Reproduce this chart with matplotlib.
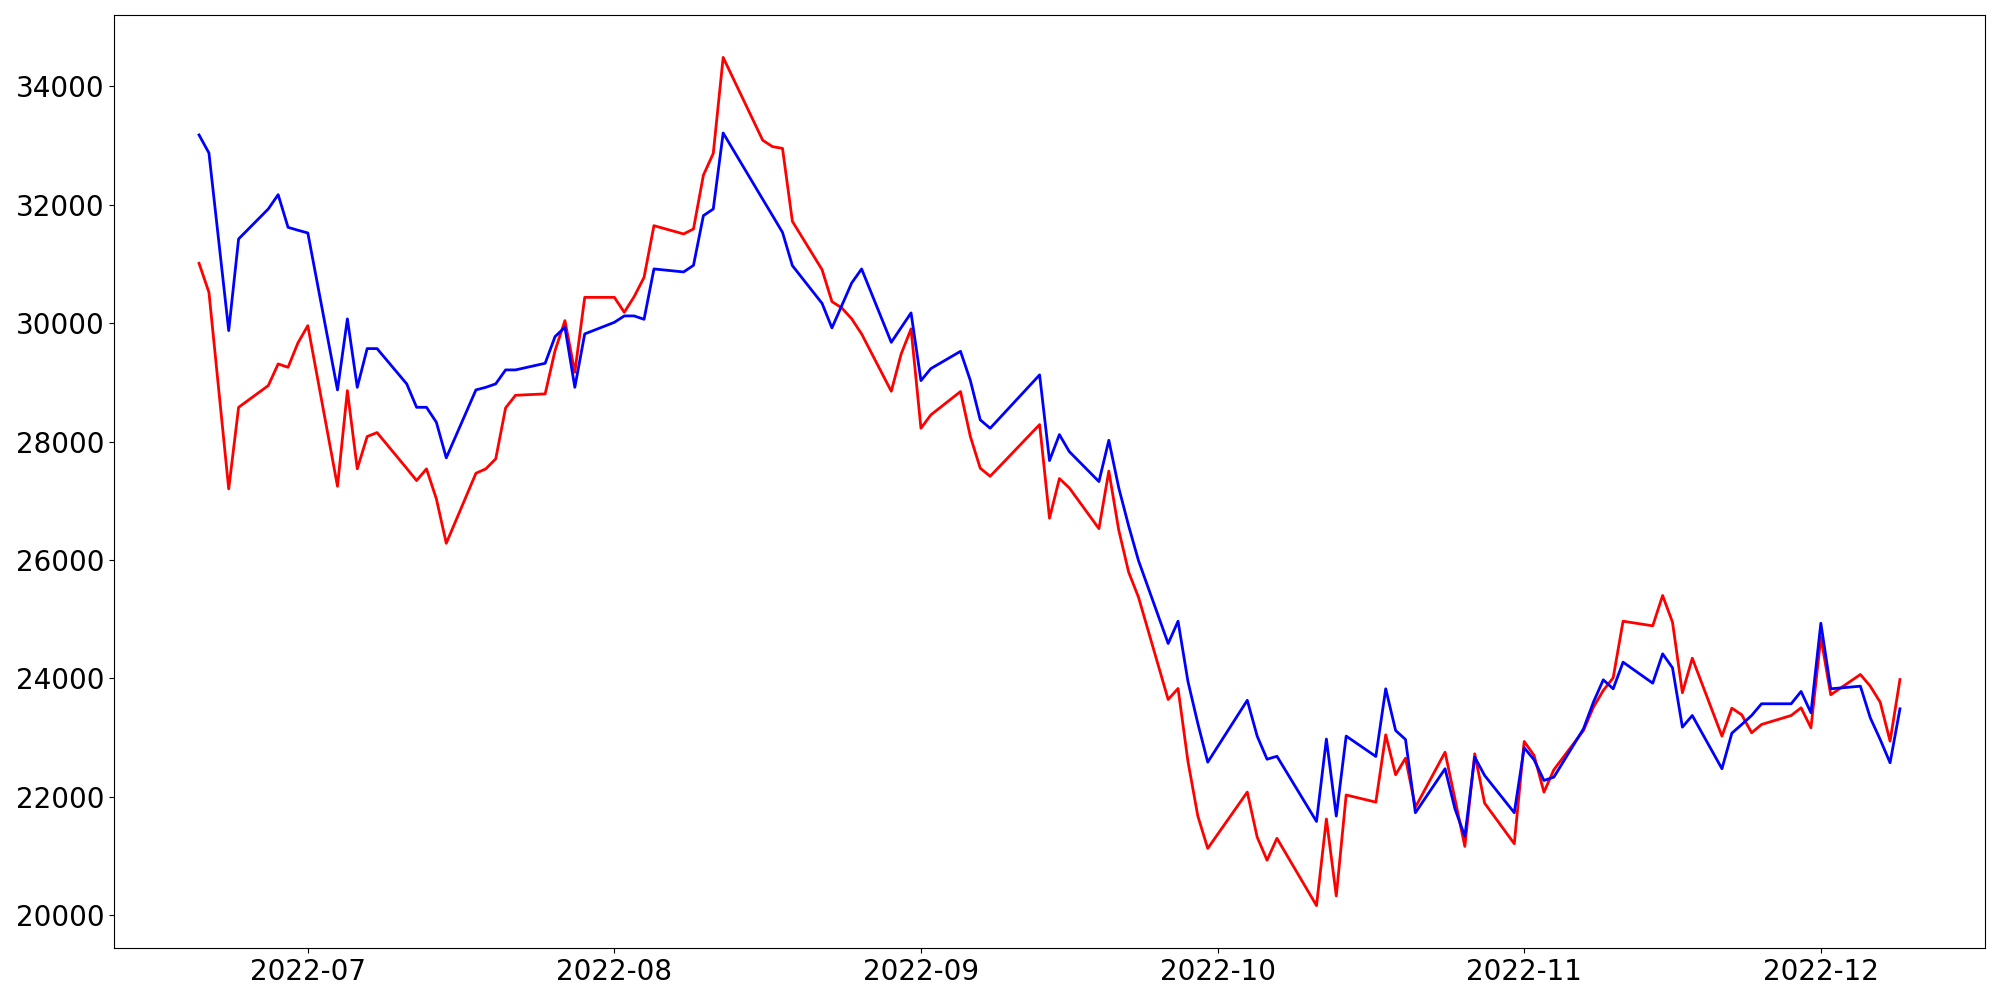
import numpy as np
import pandas as pd
import matplotlib
matplotlib.use("Agg")
import matplotlib.pyplot as plt

# trading days (weekdays, market closed on these)
holidays = ["2022-08-15", "2022-09-09", "2022-09-12", "2022-10-03", "2022-10-10"]
dates = pd.bdate_range("2022-06-20", "2022-12-09")
dates = dates[~dates.isin(pd.to_datetime(holidays))]

# blue series, by month
blue = [
    # Jun
    33180, 32875, 31375, 29874, 31423, 31929, 32171, 31619, 31570,
    # Jul
    31524, 28872, 30072, 28916, 29570, 29570, 28974, 28578, 28578, 28325,
    27724, 28872, 28916, 28974, 29210, 29210, 29322, 29773, 29930, 28916, 29818,
    # Aug
    30014, 30122, 30122, 30065, 30916, 30865, 30977, 31816, 31929, 33213,
    32093, 31815, 31534, 30972, 30335, 29919, 30299, 30680, 30916, 29676, 29925, 30173,
    # Sep
    29029, 29232, 29524, 29029, 28365, 28224, 29126, 27678, 28117, 27830,
    27324, 28021, 27220, 26577, 25988, 24587, 24964, 23947, 23236, 22582,
    # Oct
    23628, 23023, 22632, 22682, 21581, 22973, 21672, 23023, 22679, 23822,
    23118, 22966, 21728, 22471, 21795, 21328, 22667, 22358, 21728,
    # Nov
    22826, 22623, 22273, 22329, 23147, 23596, 23974, 23822, 24272, 23917, 24413,
    24177, 23174, 23371, 22471, 23072, 23219, 23371, 23569, 23569, 23777, 23417,
    # Dec
    24930, 23822, 23866, 23332, 22966, 22572, 23484,
]

# red series, by month
red = [
    # Jun
    31011, 30521, 28860, 27200, 28578, 28945, 29311, 29254, 29666,
    # Jul
    29958, 27244, 28860, 27538, 28084, 28151, 27546, 27340, 27538, 27031,
    26281, 27464, 27538, 27707, 28568, 28781, 28805, 29536, 30043, 29170, 30436,
    # Aug
    30436, 30183, 30448, 30774, 31647, 31507, 31592, 32500, 32869, 34490,
    33090, 32982, 32953, 31720, 30904, 30364, 30257, 30072, 29818, 28849, 29480, 29903,
    # Sep
    28224, 28450, 28844, 28083, 27548, 27413, 28286, 26704, 27374, 27217,
    26528, 27501, 26506, 25795, 25369, 23641, 23827, 22596, 21672, 21125,
    # Oct
    22077, 21317, 20926, 21296, 20159, 21623, 20322, 22028, 21907, 23045,
    22370, 22650, 21822, 22751, 21960, 21159, 22724, 21890, 21204,
    # Nov
    22932, 22696, 22076, 22454, 23118, 23511, 23794, 24008, 24964, 24886, 25398,
    24947, 23755, 24339, 23022, 23495, 23383, 23079, 23219, 23371, 23501, 23163,
    # Dec
    24694, 23721, 24064, 23866, 23596, 22937, 23979,
]

fig, ax = plt.subplots(figsize=(20, 10), dpi=100)
ax.plot(dates, red, color="red", linewidth=2)
ax.plot(dates, blue, color="blue", linewidth=2)
ax.tick_params(axis="both", labelsize=20)
fig.subplots_adjust(left=0.057, right=0.9925, bottom=0.052, top=0.985)
fig.savefig("out.png")
